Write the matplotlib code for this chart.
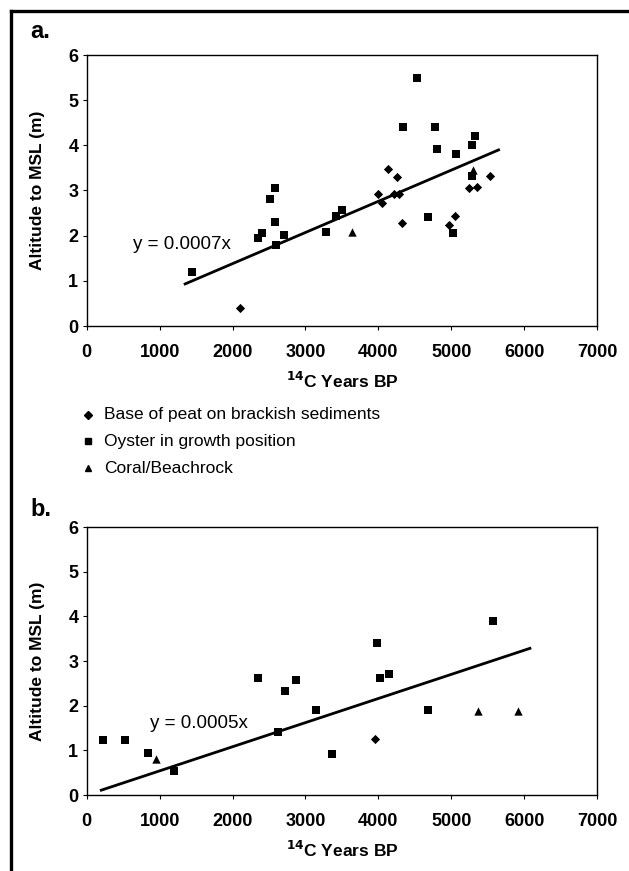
# %% Imports
import matplotlib.pyplot as plt
import numpy as np
from matplotlib.lines import Line2D

plt.rcParams["font.family"] = ["Liberation Sans", "DejaVu Sans"]

# %% Data
peat_a_x = [2100, 4000, 4050, 4130, 4220, 4260, 4290, 4320, 4970, 5050, 5250, 5350, 5530]
peat_a_y = [0.40, 2.92, 2.72, 3.47, 2.92, 3.30, 2.92, 2.27, 2.24, 2.43, 3.06, 3.08, 3.33]
oyster_a_x = [1450, 2350, 2410, 2510, 2580, 2580, 2600, 2710, 3280, 3420, 3500,
              4340, 4530, 4680, 4780, 4800, 5030, 5070, 5280, 5290, 5330]
oyster_a_y = [1.19, 1.95, 2.07, 2.82, 3.06, 2.31, 1.80, 2.01, 2.09, 2.44, 2.57,
              4.41, 5.49, 2.42, 4.41, 3.91, 2.06, 3.81, 4.01, 3.32, 4.20]
coral_a_x = [3640, 5300]
coral_a_y = [2.09, 3.45]
trend_a_range = [1350, 5650]
trend_a_slope = 0.00069
trend_a_label = "y = 0.0007x"

peat_b_x = [3960]
peat_b_y = [1.25]
oyster_b_x = [230, 530, 840, 1200, 2350, 2630, 2720, 2870, 3140, 3370, 3980, 4020, 4140, 4680, 5570]
oyster_b_y = [1.23, 1.23, 0.95, 0.54, 2.61, 1.40, 2.32, 2.58, 1.91, 0.92, 3.41, 2.61, 2.71, 1.91, 3.89]
coral_b_x = [950, 5370, 5920]
coral_b_y = [0.80, 1.88, 1.88]
trend_b_range = [200, 6080]
trend_b_slope = 0.00054
trend_b_label = "y = 0.0005x"

legend_labels = ["Base of peat on brackish sediments", "Oyster in growth position", "Coral/Beachrock"]

# %% Figure
fig = plt.figure(figsize=(6.29, 8.71), dpi=100)

# frame lines (left and top)
fig.add_artist(Line2D([11 / 629, 11 / 629], [0, 1 - 11.5 / 871], color="black", lw=2.4))
fig.add_artist(Line2D([11 / 629, 1], [1 - 11.5 / 871, 1 - 11.5 / 871], color="black", lw=2.4))


def draw_panel(ax, peat, oyster, coral, trend_range, slope, label, label_xy):
    ax.scatter(*peat, marker="D", s=22, c="black", linewidths=0, zorder=3)
    ax.scatter(*oyster, marker="s", s=30, c="black", linewidths=0, zorder=3)
    ax.scatter(*coral, marker="^", s=36, c="black", linewidths=0, zorder=3)
    xs = np.array(trend_range)
    ax.plot(xs, slope * xs, color="black", lw=2.0, zorder=2)
    ax.text(*label_xy, label, fontsize=13.5, ha="left", va="center")
    ax.set_xlim(0, 7000)
    ax.set_ylim(0, 6)
    ax.set_xticks(range(0, 7001, 1000))
    ax.set_yticks(range(0, 7))
    ax.tick_params(direction="out", length=3, width=0.8, labelsize=13)
    ax.tick_params(axis="x", pad=10)
    ax.tick_params(axis="y", pad=3)
    for lab in ax.get_xticklabels() + ax.get_yticklabels():
        lab.set_fontweight("bold")
    for sp in ax.spines.values():
        sp.set_linewidth(1.0)
    ax.set_ylabel("Altitude to MSL (m)", fontsize=12.5, fontweight="bold", labelpad=17)
    ax.set_xlabel(r"$^{\mathbf{14}}$C Years BP", fontsize=12.5, fontweight="bold", labelpad=7)


ax_a = fig.add_axes([86.7 / 629, 1 - 326 / 871, 510.3 / 629, 271 / 871])
draw_panel(ax_a, (peat_a_x, peat_a_y), (oyster_a_x, oyster_a_y), (coral_a_x, coral_a_y),
           trend_a_range, trend_a_slope, trend_a_label, (640, 1.8))

ax_b = fig.add_axes([86.7 / 629, 1 - 795 / 871, 510.3 / 629, 268 / 871])
draw_panel(ax_b, (peat_b_x, peat_b_y), (oyster_b_x, oyster_b_y), (coral_b_x, coral_b_y),
           trend_b_range, trend_b_slope, trend_b_label, (870, 1.6))

# panel letters
fig.text(30 / 629, 1 - 31 / 871, "a.", fontsize=17, fontweight="bold", va="center")
fig.text(30 / 629, 1 - 509 / 871, "b.", fontsize=17, fontweight="bold", va="center")

# legend below panel a
for i, (marker, lab) in enumerate(zip(["D", "s", "^"], legend_labels)):
    y = 1 - (415 + i * 26.5) / 871
    fig.add_artist(Line2D([88 / 629], [y], marker=marker, color="black", ms=4, lw=0))
    fig.text(104 / 629, y, lab, fontsize=12.5, va="center")

fig.savefig("out.png", dpi=100)
